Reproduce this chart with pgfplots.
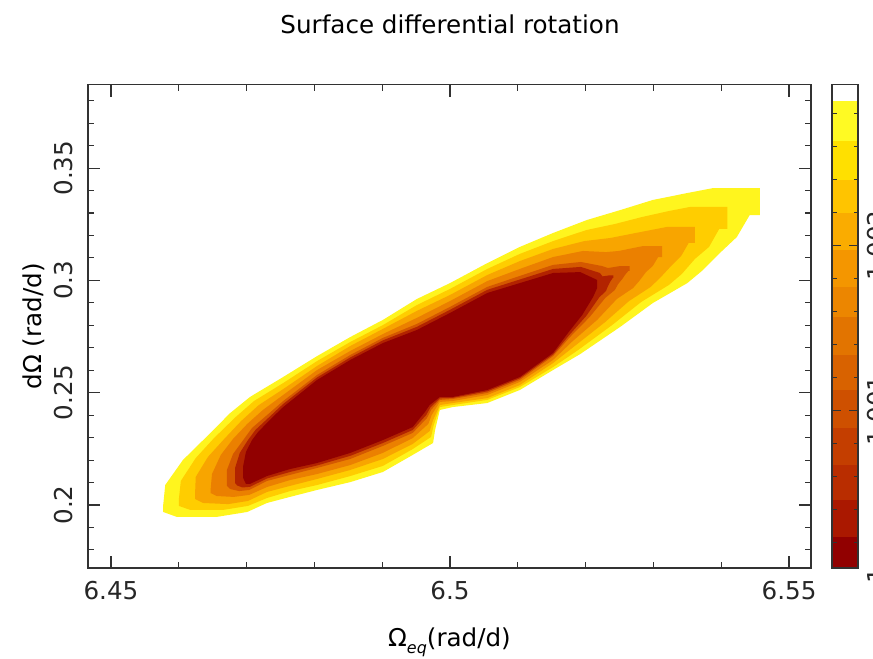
\documentclass[border=0pt]{standalone}
\usepackage{fontspec}
\setmainfont{DejaVu Sans}
\usepackage{pgfplots}
\pgfplotsset{compat=1.18}
\definecolor{lv0}{RGB}{255,245,30}
\definecolor{lv1}{RGB}{255,205,0}
\definecolor{lv2}{RGB}{248,165,0}
\definecolor{lv3}{RGB}{235,128,0}
\definecolor{lv4}{RGB}{212,88,0}
\definecolor{lv5}{RGB}{178,35,0}
\definecolor{core}{RGB}{145,0,0}
\definecolor{axcol}{RGB}{50,50,50}
\newcommand\lab{\fontsize{24.7}{29}\selectfont}

\begin{document}
\begin{tikzpicture}
\lab
\begin{axis}[at={(0,0)},anchor=south west,scale only axis,width=723bp,height=483.3bp,
 xmin=6.44661,xmax=6.55324,ymin=0.17195,ymax=0.38713,
 xtick={6.45,6.5,6.55},xticklabels={6.45,6.5,6.55},
 minor xtick={6.46,6.47,6.48,6.49,6.51,6.52,6.53,6.54},
 ytick={0.2,0.25,0.3,0.35},yticklabels={0.2,0.25,0.3,0.35},
 minor ytick={0.18,0.19,0.21,0.22,0.23,0.24,0.26,0.27,0.28,0.29,0.31,0.32,0.33,0.34,0.36,0.37,0.38},
 tick align=inside,major tick length=12bp,minor tick length=6bp,
 axis line style={line width=1.3bp,axcol},every tick/.style={line width=1.1bp,axcol},
 ticklabel style={font=\lab,text=black!85},
 xticklabel style={anchor=base,yshift=-31.3bp},
 yticklabel style={xshift=-15bp,rotate=90,anchor=base},
 axis on top]
% outer contour (yellow)
\addplot[draw=none,fill=lv0] coordinates {(6.4577,0.2000) (6.4580,0.2089) (6.4606,0.2200) (6.4639,0.2298) (6.4676,0.2410) (6.4705,0.2481) (6.4754,0.2570) (6.4804,0.2663) (6.4853,0.2748) (6.4901,0.2824) (6.4951,0.2917) (6.5000,0.2988) (6.5055,0.3077) (6.5103,0.3149) (6.5152,0.3211) (6.5202,0.3269) (6.5251,0.3313) (6.5299,0.3358) (6.5350,0.3389) (6.5388,0.3411) (6.5457,0.3411) (6.5457,0.3291) (6.5442,0.3291) (6.5423,0.3193) (6.5398,0.3122) (6.5373,0.3046) (6.5350,0.2988) (6.5299,0.2899) (6.5251,0.2793) (6.5192,0.2672) (6.5152,0.2601) (6.5103,0.2512) (6.5055,0.2454) (6.5004,0.2436) (6.4985,0.2423) (6.4978,0.2334) (6.4975,0.2276) (6.4945,0.2223) (6.4901,0.2147) (6.4853,0.2102) (6.4804,0.2067) (6.4764,0.2036) (6.4730,0.2009) (6.4701,0.1969) (6.4656,0.1947) (6.4597,0.1947) (6.4577,0.1969)};
\addplot[draw=none,fill=lv1] coordinates {(6.4600,0.2022) (6.4603,0.2107) (6.4625,0.2209) (6.4652,0.2298) (6.4684,0.2392) (6.4711,0.2463) (6.4754,0.2543) (6.4804,0.2641) (6.4853,0.2726) (6.4901,0.2801) (6.4951,0.2890) (6.5000,0.2962) (6.5055,0.3051) (6.5103,0.3118) (6.5152,0.3175) (6.5201,0.3224) (6.5243,0.3251) (6.5283,0.3282) (6.5323,0.3309) (6.5354,0.3327) (6.5409,0.3327) (6.5409,0.3229) (6.5397,0.3229) (6.5382,0.3149) (6.5361,0.3095) (6.5342,0.3029) (6.5323,0.2980) (6.5282,0.2904) (6.5239,0.2801) (6.5189,0.2690) (6.5152,0.2614) (6.5103,0.2525) (6.5055,0.2468) (6.5004,0.2445) (6.4985,0.2436) (6.4976,0.2356) (6.4972,0.2303) (6.4945,0.2249) (6.4901,0.2174) (6.4853,0.2129) (6.4804,0.2089) (6.4764,0.2062) (6.4730,0.2031) (6.4702,0.1996) (6.4665,0.1978) (6.4617,0.1978) (6.4600,0.1996)};
\addplot[draw=none,fill=lv2] coordinates {(6.4624,0.2049) (6.4625,0.2125) (6.4643,0.2214) (6.4667,0.2294) (6.4692,0.2374) (6.4718,0.2445) (6.4754,0.2516) (6.4804,0.2619) (6.4853,0.2708) (6.4901,0.2784) (6.4951,0.2864) (6.5000,0.2935) (6.5055,0.3024) (6.5103,0.3086) (6.5152,0.3140) (6.5198,0.3175) (6.5237,0.3189) (6.5267,0.3207) (6.5296,0.3224) (6.5320,0.3238) (6.5361,0.3238) (6.5361,0.3167) (6.5352,0.3167) (6.5341,0.3109) (6.5326,0.3064) (6.5311,0.3015) (6.5296,0.2971) (6.5264,0.2908) (6.5229,0.2815) (6.5184,0.2708) (6.5152,0.2632) (6.5103,0.2534) (6.5055,0.2476) (6.5004,0.2454) (6.4985,0.2445) (6.4975,0.2378) (6.4970,0.2329) (6.4945,0.2272) (6.4901,0.2205) (6.4853,0.2156) (6.4804,0.2116) (6.4764,0.2085) (6.4730,0.2058) (6.4702,0.2018) (6.4673,0.2004) (6.4636,0.2009) (6.4624,0.2027)};
\addplot[draw=none,fill=lv3] coordinates {(6.4647,0.2071) (6.4649,0.2138) (6.4662,0.2223) (6.4680,0.2294) (6.4701,0.2361) (6.4724,0.2423) (6.4754,0.2490) (6.4804,0.2601) (6.4853,0.2686) (6.4901,0.2761) (6.4951,0.2833) (6.5000,0.2908) (6.5055,0.2997) (6.5103,0.3051) (6.5152,0.3104) (6.5196,0.3131) (6.5230,0.3126) (6.5249,0.3131) (6.5270,0.3144) (6.5285,0.3153) (6.5313,0.3153) (6.5313,0.3104) (6.5307,0.3104) (6.5299,0.3064) (6.5289,0.3037) (6.5279,0.2997) (6.5270,0.2966) (6.5246,0.2917) (6.5217,0.2824) (6.5181,0.2730) (6.5152,0.2646) (6.5103,0.2548) (6.5055,0.2490) (6.5004,0.2463) (6.4985,0.2459) (6.4973,0.2401) (6.4968,0.2361) (6.4945,0.2298) (6.4901,0.2232) (6.4853,0.2178) (6.4804,0.2138) (6.4764,0.2111) (6.4730,0.2080) (6.4704,0.2045) (6.4681,0.2036) (6.4656,0.2040) (6.4647,0.2053)};
\addplot[draw=none,fill=lv4] coordinates {(6.4671,0.2098) (6.4671,0.2156) (6.4680,0.2227) (6.4695,0.2289) (6.4708,0.2343) (6.4732,0.2405) (6.4754,0.2463) (6.4804,0.2579) (6.4853,0.2668) (6.4901,0.2744) (6.4951,0.2806) (6.5000,0.2882) (6.5055,0.2971) (6.5103,0.3020) (6.5152,0.3069) (6.5193,0.3082) (6.5224,0.3064) (6.5233,0.3055) (6.5243,0.3060) (6.5251,0.3064) (6.5265,0.3064) (6.5265,0.3042) (6.5263,0.3042) (6.5258,0.3024) (6.5254,0.3006) (6.5248,0.2984) (6.5243,0.2957) (6.5229,0.2922) (6.5206,0.2837) (6.5177,0.2748) (6.5152,0.2663) (6.5103,0.2557) (6.5055,0.2499) (6.5004,0.2472) (6.4985,0.2468) (6.4972,0.2423) (6.4966,0.2387) (6.4945,0.2321) (6.4901,0.2263) (6.4853,0.2205) (6.4804,0.2165) (6.4764,0.2134) (6.4730,0.2107) (6.4704,0.2067) (6.4689,0.2062) (6.4676,0.2071) (6.4671,0.2085)};
\addplot[draw=none,fill=lv5] coordinates {(6.4683,0.2109) (6.4683,0.2165) (6.4690,0.2232) (6.4702,0.2289) (6.4713,0.2334) (6.4735,0.2396) (6.4754,0.2450) (6.4804,0.2568) (6.4853,0.2657) (6.4901,0.2733) (6.4951,0.2793) (6.5000,0.2869) (6.5055,0.2958) (6.5103,0.3004) (6.5152,0.3051) (6.5193,0.3060) (6.5221,0.3033) (6.5225,0.3018) (6.5230,0.3020) (6.5234,0.3022) (6.5241,0.3022) (6.5241,0.3011) (6.5240,0.3011) (6.5238,0.3002) (6.5236,0.2993) (6.5233,0.2975) (6.5230,0.2953) (6.5220,0.2924) (6.5201,0.2842) (6.5176,0.2757) (6.5152,0.2670) (6.5103,0.2564) (6.5055,0.2506) (6.5004,0.2477) (6.4985,0.2475) (6.4971,0.2434) (6.4965,0.2401) (6.4945,0.2334) (6.4901,0.2276) (6.4853,0.2219) (6.4804,0.2176) (6.4764,0.2147) (6.4730,0.2118) (6.4705,0.2081) (6.4694,0.2078) (6.4686,0.2087) (6.4683,0.2098)};
% minimum region
\addplot[draw=none,fill=core] coordinates {(6.4695,0.2120) (6.4695,0.2174) (6.4699,0.2236) (6.4708,0.2289) (6.4717,0.2325) (6.4737,0.2387) (6.4754,0.2436) (6.4804,0.2557) (6.4853,0.2646) (6.4901,0.2721) (6.4951,0.2779) (6.5000,0.2855) (6.5055,0.2944) (6.5103,0.2988) (6.5152,0.3033) (6.5192,0.3037) (6.5217,0.3002) (6.5217,0.2966) (6.5211,0.2926) (6.5195,0.2846) (6.5174,0.2766) (6.5152,0.2677) (6.5103,0.2570) (6.5055,0.2512) (6.5004,0.2481) (6.4985,0.2481) (6.4970,0.2445) (6.4963,0.2414) (6.4945,0.2347) (6.4901,0.2289) (6.4853,0.2232) (6.4804,0.2187) (6.4764,0.2160) (6.4730,0.2129) (6.4705,0.2094) (6.4699,0.2094)};
\end{axis}
% colour wedge, values as (chi2/chi2min - 1) x 1000
\begin{axis}[at={(744bp,0)},anchor=south west,scale only axis,width=26bp,height=483.3bp,
 xmin=0,xmax=1,ymin=0.0467,ymax=2.976,xtick=\empty,
 ytick={1,2},yticklabels={1.001,1.002},
 minor ytick={0.2,0.4,0.6,0.8,1.2,1.4,1.6,1.8,2.2,2.4,2.6,2.8},
 tick align=inside,major tick length=9bp,minor tick length=4.5bp,
 axis line style={line width=1.3bp,axcol},every tick/.style={line width=1.1bp,axcol},
 ticklabel style={font=\lab,text=black!85},
 yticklabel pos=right,yticklabel style={xshift=27bp,rotate=90,anchor=base},
 clip=false,axis on top]
\addplot[draw=none,fill={rgb,255:red,145;green,0;blue,0}] coordinates {(0,0.0467) (1,0.0467) (1,0.236) (0,0.236)};
\addplot[draw=none,fill={rgb,255:red,170;green,24;blue,0}] coordinates {(0,0.236) (1,0.236) (1,0.459) (0,0.459)};
\addplot[draw=none,fill={rgb,255:red,185;green,45;blue,0}] coordinates {(0,0.459) (1,0.459) (1,0.671) (0,0.671)};
\addplot[draw=none,fill={rgb,255:red,196;green,62;blue,0}] coordinates {(0,0.671) (1,0.671) (1,0.893) (0,0.893)};
\addplot[draw=none,fill={rgb,255:red,206;green,80;blue,0}] coordinates {(0,0.893) (1,0.893) (1,1.125) (0,1.125)};
\addplot[draw=none,fill={rgb,255:red,216;green,98;blue,0}] coordinates {(0,1.125) (1,1.125) (1,1.338) (0,1.338)};
\addplot[draw=none,fill={rgb,255:red,226;green,116;blue,0}] coordinates {(0,1.338) (1,1.338) (1,1.570) (0,1.570)};
\addplot[draw=none,fill={rgb,255:red,236;green,134;blue,0}] coordinates {(0,1.570) (1,1.570) (1,1.752) (0,1.752)};
\addplot[draw=none,fill={rgb,255:red,244;green,150;blue,0}] coordinates {(0,1.752) (1,1.752) (1,1.974) (0,1.974)};
\addplot[draw=none,fill={rgb,255:red,250;green,172;blue,0}] coordinates {(0,1.974) (1,1.974) (1,2.196) (0,2.196)};
\addplot[draw=none,fill={rgb,255:red,255;green,196;blue,0}] coordinates {(0,2.196) (1,2.196) (1,2.398) (0,2.398)};
\addplot[draw=none,fill={rgb,255:red,255;green,224;blue,0}] coordinates {(0,2.398) (1,2.398) (1,2.636) (0,2.636)};
\addplot[draw=none,fill={rgb,255:red,255;green,250;blue,35}] coordinates {(0,2.636) (1,2.636) (1,2.879) (0,2.879)};
\node[xshift=27bp,rotate=90,anchor=base,text=black!85] at (axis cs:1,0) {1};
\end{axis}
\node[anchor=base] at (362bp,534bp) {Surface differential rotation};
\node[rotate=90,anchor=base] at (-46bp,241.65bp) {dΩ (rad/d)};
\node[anchor=base] at (361.5bp,-78bp) {Ω\raisebox{-0.3em}{\fontsize{16}{16}\selectfont\itshape eq}(rad/d)};
\pgfresetboundingbox
\path[use as bounding box] (-88bp,-91bp) rectangle (785bp,568bp);
\end{tikzpicture}
\end{document}
